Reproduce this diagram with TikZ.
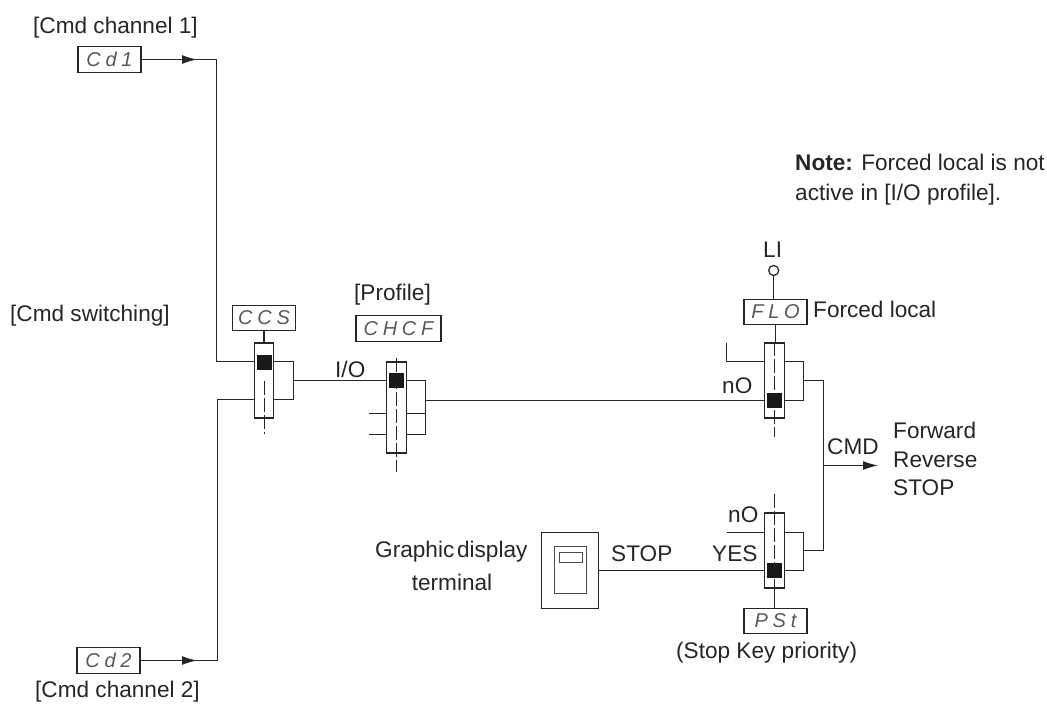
\documentclass[tikz,border=0pt]{standalone}
\usepackage{fontspec}
\setmainfont{Liberation Sans}
\usetikzlibrary{arrows.meta}
\tikzset{
  x=1pt,y=-1pt,
  wire/.style={line width=1.25pt,color=black!85},
  tipwire/.style={wire,-{Latex[length=15pt,width=9pt]}},
  lbl/.style={anchor=base west,inner sep=0pt,font=\fontsize{22.6}{26}\selectfont,text=black!85},
  lblc/.style={lbl,anchor=base},
  codebox/.style={draw=black!85,line width=1.25pt,inner sep=0pt,minimum width=63pt,minimum height=25.5pt,fill=white,
    font=\fontsize{20}{22}\itshape\addfontfeature{LetterSpace=24}\selectfont,text=black!65},
  switchbox/.style={draw=black!85,line width=1.25pt,inner sep=0pt,minimum width=19.5pt},
  slider/.style={fill=black!90,inner sep=0pt,minimum size=15pt},
  axis/.style={line width=1pt,color=black!85,dash pattern=on 14pt off 3pt},
}
\begin{document}
\begin{tikzpicture}
\useasboundingbox (0,0) rectangle (1047,704);
\fill[white] (0,0) rectangle (1047,704);

% displays
\node[codebox] (cd1) at (109.5,59.5) {Cd1};
\node[codebox] (cd2) at (108.5,660.5) {Cd2};
\node[codebox] (ccs) at (264,318) {CCS};
\node[codebox,minimum width=85pt] (chcf) at (398.5,328.5) {CHCF};
\node[codebox] (flo) at (775.5,312) {FLO};
\node[codebox] (pst) at (775.5,621) {PSt};

% switches
\node[switchbox,minimum height=75pt] (sw1) at (264,380.5) {};
\node[switchbox,minimum height=91pt] (sw2) at (396.5,407.5) {};
\node[switchbox,minimum height=75pt] (sw3) at (774.5,380.5) {};
\node[switchbox,minimum height=75pt] (sw4) at (774.5,550.5) {};

% switch axes
\coordinate (a1b) at (264,434);
\coordinate (a2t) at (396.5,358);
\coordinate (a2b) at (396.5,472);
\coordinate (a3b) at (774.5,437);
\coordinate (a4t) at (774.5,494);
\draw[axis] (sw1.center) -- (a1b);
\draw[wire] (ccs.south) -- (sw1.north);
\draw[axis] (a2t) -- (a2b);
\draw[axis] (sw3.north) -- (a3b);
\draw[axis] (a4t) -- (sw4.south);
\draw[wire] (sw3.north -| flo.south) -- (flo.south);
\draw[wire] (sw4.south) -- (pst.north -| sw4.south);

% sliders
\node[slider] (s1) at (264.5,362.5) {};
\node[slider] (s2) at (396.5,380.5) {};
\node[slider] (s3) at (774.5,400.5) {};
\node[slider] (s4) at (774.5,570.5) {};

% channel 1 and 2 inputs
\coordinate (t1) at (197,59.5);
\coordinate (c1) at (216.5,59.5);
\coordinate (c1b) at (216.5,361.5);
\coordinate (t2) at (197,660.5);
\coordinate (c2) at (217.5,660.5);
\coordinate (c2b) at (217.5,399.5);
\draw[tipwire] (cd1.east) -- (t1);
\draw[wire,line cap=round,line join=round] (cd1.east) -- (c1) -- (c1b) -- (sw1.west |- c1b);
\draw[tipwire] (cd2.east) -- (t2);
\draw[wire,line cap=round,line join=round] (cd2.east) -- (c2) -- (c2b) -- (sw1.west |- c2b);

% switch 1 output
\coordinate (r1) at (293.5,361.5);
\coordinate (r1b) at (293.5,399.5);
\coordinate (r1m) at (293.5,380.5);
\draw[wire] (sw1.east |- r1) -- (r1) -- (r1b) -- (sw1.east |- r1b);
\draw[wire] (r1m) -- (sw2.west |- r1m);

% switch 2
\coordinate (r2) at (425.5,380.5);
\coordinate (r2m) at (425.5,413.5);
\coordinate (r2b) at (425.5,434.5);
\coordinate (l2m) at (369,413.5);
\coordinate (l2b) at (369,434.5);
\coordinate (r2o) at (425.5,400.5);
\draw[wire] (sw2.east |- r2) -- (r2) -- (r2b) -- (sw2.east |- r2b);
\draw[wire] (sw2.east |- r2m) -- (r2m);
\draw[wire] (l2m) -- (sw2.west |- l2m);
\draw[wire] (l2b) -- (sw2.west |- l2b);
\draw[wire] (r2o) -- (sw3.west |- r2o);

% switch 3
\coordinate (u3) at (726.5,343);
\coordinate (l3) at (726.5,361.5);
\coordinate (r3) at (803.5,361.5);
\coordinate (r3b) at (803.5,400.5);
\coordinate (r3m) at (803.5,380.5);
\coordinate (v3) at (823.5,380.5);
\draw[wire] (u3) -- (l3) -- (sw3.west |- l3);
\draw[wire] (sw3.east |- r3) -- (r3) -- (r3b) -- (sw3.east |- r3b);
\draw[wire] (r3m) -- (v3);

% forced-local input
\node[circle,draw=black!85,line width=1.25pt,inner sep=0pt,minimum size=10pt] (li) at (773.7,270.5) {};
\draw[wire] (li.south) -- (flo.north -| li.south);

% switch 4
\coordinate (l4) at (727,532.5);
\coordinate (r4) at (803.5,532.5);
\coordinate (r4b) at (803.5,570.5);
\coordinate (r4m) at (803.5,550.5);
\coordinate (v4) at (823.5,550.5);
\coordinate (cmd) at (823.5,465.5);
\coordinate (cmdt) at (878,465.5);
\draw[wire] (l4) -- (sw4.west |- l4);
\draw[wire] (sw4.east |- r4) -- (r4) -- (r4b) -- (sw4.east |- r4b);
\draw[wire] (r4m) -- (v4) -- (v3);
\draw[tipwire] (cmd) -- (cmdt);

% graphic terminal
\node[draw=black!85,line width=1.25pt,inner sep=0pt,minimum width=57.5pt,minimum height=76pt] (term) at (570,570.5) {};
\node[draw=black!70,line width=0.9pt,inner sep=0pt,minimum width=32pt,minimum height=47pt] (scr) at (570,569.5) {};
\node[draw=black!70,line width=0.9pt,inner sep=0pt,minimum width=23pt,minimum height=10pt] (win) at (570.5,557) {};
\draw[wire] (term.east) -- (sw4.west |- term.east);

% labels
\node[lbl] (l1) at (33,33) {[Cmd channel 1]};
\node[lbl] (l2) at (10,321) {[Cmd switching]};
\node[lbl] (l3) at (35,697) {[Cmd channel 2]};
\node[lbl] (l4t) at (354,300) {[Profile]};
\node[lbl] (l5) at (335,377) {I/O};
\node[lbl] (l6) at (763,257) {LI};
\node[lbl] (l7) at (813,317) {Forced local};
\node[lbl] (l8) at (722,393) {nO};
\node[lbl] (l9) at (728,522) {nO};
\node[lbl] (l10) at (712,561) {YES};
\node[lbl] (l11) at (611,561) {STOP};
\node[lbl] (l12) at (375,557) {Graphic\hspace{-3.5pt} display};
\node[lblc] (l13) at (452,590) {terminal};
\node[lbl] (l14) at (676,658) {(Stop Key priority)};
\node[lbl] (l15) at (827,454) {CMD};
\node[lbl] (l16) at (893,438) {Forward};
\node[lbl] (l17) at (893,467) {Reverse};
\node[lbl] (l18) at (893,495) {STOP};
\node[lbl] (n1) at (795,170) {\textbf{Note:} Forced local is not};
\node[lbl] (n2) at (795,200) {active in [I/O profile].};
\end{tikzpicture}
\end{document}
